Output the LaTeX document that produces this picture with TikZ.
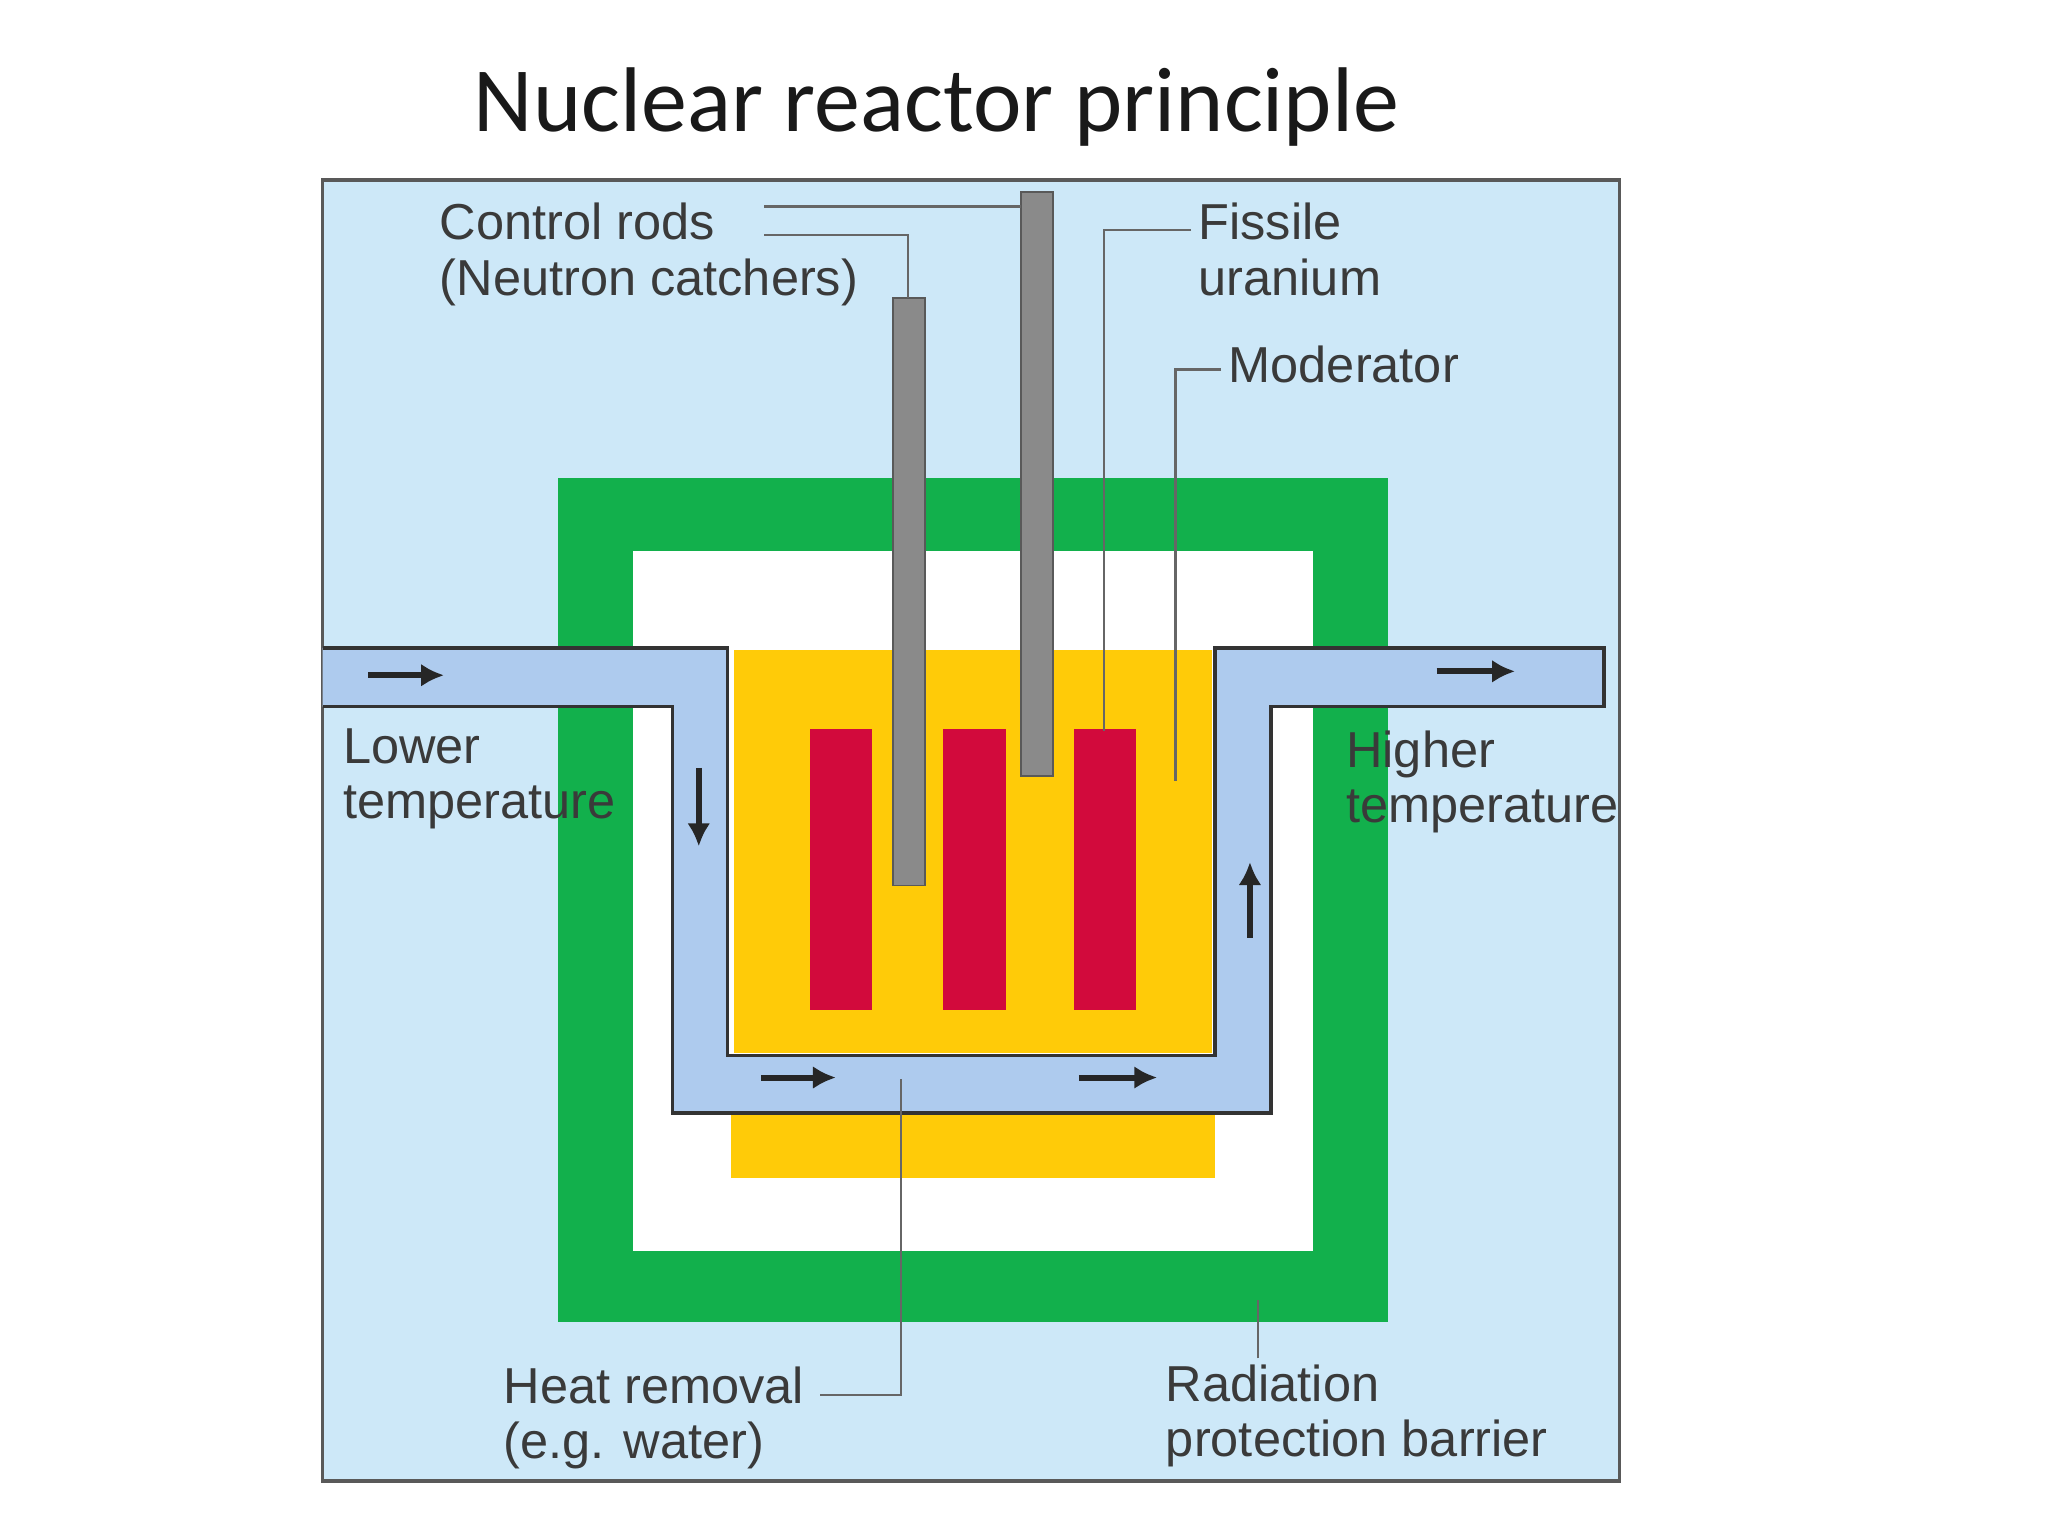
\documentclass[tikz,border=0pt]{standalone}
\usepackage{fontspec}
\setmainfont{Liberation Sans}
\newfontfamily\titlefont{Carlito}
\usetikzlibrary{arrows.meta}
\definecolor{bgblue}{HTML}{CDE8F8}
\definecolor{pipeblue}{HTML}{AECBEE}
\definecolor{rgreen}{HTML}{12B04C}
\definecolor{ryellow}{HTML}{FFCB08}
\definecolor{rred}{HTML}{D20A3C}
\definecolor{rgray}{HTML}{8A8A8A}
\definecolor{txt}{HTML}{3A3A3A}
\begin{document}
\begin{tikzpicture}[x=0.01cm,y=-0.01cm,
  lbl/.style={font=\fontsize{11}{12}\selectfont, text=txt, align=left, inner sep=0pt, anchor=north west},
  lead/.style={draw=gray!80!black, line width=0.5pt},
  flow/.style={-{Latex[length=5pt,width=5pt]}, line width=1.3pt, draw=black!85},
  rod/.style={fill=rred},
  crod/.style={fill=rgray, draw=gray!70!black, line width=0.4pt}]
\useasboundingbox (0,0) rectangle (1568,1176);
\fill[white] (0,0) rectangle (1568,1176);
\node[font=\titlefont\fontsize{20}{24}\selectfont, text=black!90] (title) at (717,82) {Nuclear reactor principle};
\filldraw[fill=bgblue, draw=gray!70!black, line width=0.8pt] (247,138) rectangle (1240,1134);
\fill[rgreen] (427,366) rectangle (1063,1012);
\fill[white] (485,422) rectangle (1005,958);
\fill[ryellow] (560,852) rectangle (930,902);
\filldraw[fill=pipeblue, draw=black!80, line width=0.8pt]
  (247,496) -- (557,496) -- (557,808) -- (930,808) -- (930,496) -- (1228,496) -- (1228,541)
  -- (973,541) -- (973,852) -- (515,852) -- (515,541) -- (247,541);
\fill[ryellow] (562,498) rectangle (928,806);
\fill[rod] (620,558) rectangle (668,773);
\fill[rod] (722,558) rectangle (770,773);
\fill[rod] (822,558) rectangle (870,773);
\filldraw[crod] (684,228) rectangle (708,678);
\filldraw[crod] (782,147) rectangle (806,594);
\draw[flow] (282,517) -- (340,517);
\draw[flow] (1100,514) -- (1160,514);
\draw[flow] (535,588) -- (535,648);
\draw[flow] (957,718) -- (957,660);
\draw[flow] (583,825) -- (640,825);
\draw[flow] (826,825) -- (886,825);
\node[lbl] (cr) at (336,155) {Control rods\\(Neutron catchers)};
\node[lbl] (fu) at (917,155) {Fissile\\uranium};
\node[lbl] (mo) at (940,264) {Moderator};
\node[lbl] (lt) at (262,557) {Lower\\temperature};
\node[lbl] (ht) at (1030,559) {Higher\\temperature};
\node[lbl] (hr) at (385,1046) {Heat removal\\(e.g. water)};
\node[lbl] (rb) at (892,1044) {Radiation\\protection barrier};
\draw[lead] (585,158) -- (782,158);
\draw[lead] (585,180) -- (695,180) -- (695,228);
\draw[lead] (912,176) -- (845,176) -- (845,560);
\draw[lead] (935,283) -- (900,283) -- (900,598);
\draw[lead] (628,1068) -- (690,1068) -- (690,826);
\draw[lead] (963,1040) -- (963,995);
\end{tikzpicture}
\end{document}
